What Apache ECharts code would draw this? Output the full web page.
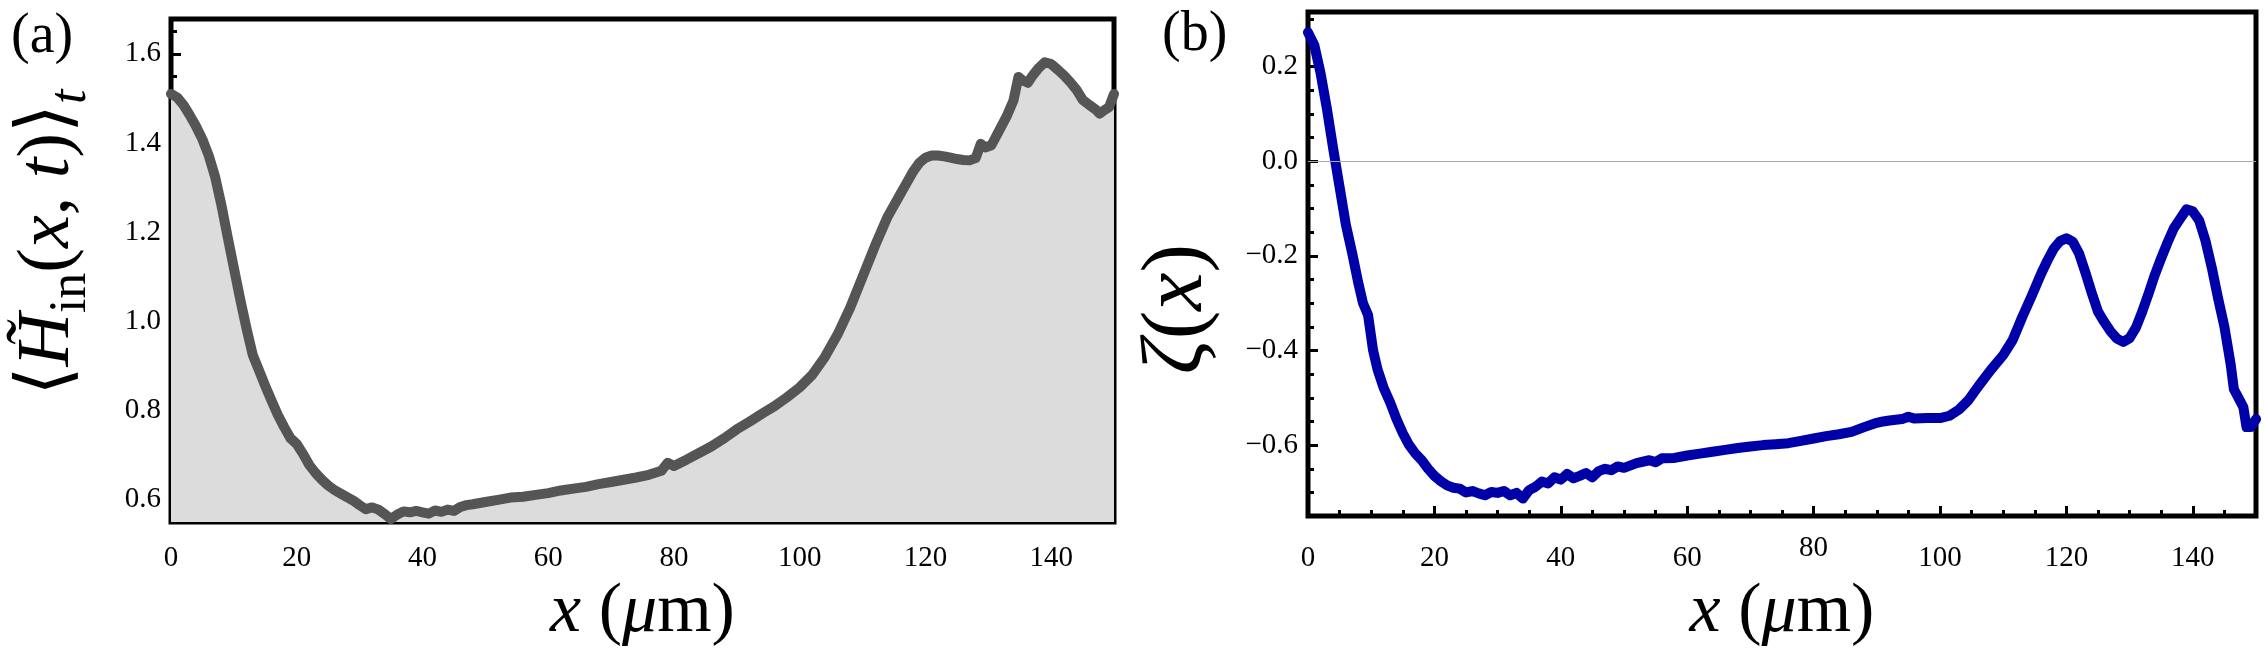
<!DOCTYPE html>
<html><head><meta charset="utf-8">
<script src="https://cdn.jsdelivr.net/npm/echarts@6/dist/echarts.min.js"></script>
<style>html,body{margin:0;padding:0;background:#fff}#c{width:2265px;height:653px}</style>
</head><body><div id="c"></div>
<script>
// ---- data: panel (a) <H_in(x,t)>_t ----
const hX = [0,1,2,3,4,5,6,7,8,9,10,11,12,13,14,15,16,17,18,19,20,21,22,23,24,25,26,27,28,29,30,31,32,33,34,35,36,37,38,39,40,41,42,43,44,45,46,47,48,50,52,54,56,58,60,62,64,66,68,70,72,74,76,78,79,80,82,84,86,88,90,92,94,96,98,100,102,104,106,108,110,112,114,116,117,118,119,120,121,122,123,124,125,126,127,128,128.8,129.5,130.5,132,133,134,134.8,135.5,136.3,137,138,139,140,141,142,143,144,145,146,147,147.7,148.5,149.2,150];
const hY = [1.510,1.502,1.485,1.462,1.437,1.408,1.372,1.325,1.262,1.19,1.12,1.05,0.985,0.925,0.89,0.855,0.822,0.79,0.763,0.738,0.725,0.703,0.678,0.66,0.645,0.632,0.622,0.614,0.606,0.598,0.588,0.579,0.583,0.578,0.568,0.557,0.567,0.574,0.572,0.575,0.572,0.569,0.576,0.573,0.578,0.575,0.584,0.588,0.590,0.595,0.600,0.605,0.607,0.611,0.615,0.621,0.625,0.629,0.635,0.640,0.645,0.650,0.656,0.665,0.683,0.676,0.690,0.705,0.720,0.738,0.758,0.775,0.793,0.81,0.83,0.852,0.88,0.92,0.97,1.03,1.10,1.17,1.235,1.285,1.31,1.335,1.355,1.367,1.372,1.372,1.370,1.367,1.364,1.362,1.361,1.366,1.398,1.39,1.395,1.435,1.462,1.495,1.548,1.54,1.535,1.55,1.568,1.581,1.577,1.565,1.552,1.537,1.52,1.497,1.486,1.476,1.466,1.474,1.48,1.51];
// ---- data: panel (b) zeta(x) ----
const zX = [0,1,2,3,4,5,6,7,8,8.7,9.5,10.3,11,12,13,14,15,16,17,18,19,20,21,22,23,24,25,26,27,28,29,30,31,32,33,34,35,36,37,38,39,40,41,42,43,44,45,46,47,48,49,50,52,54,55,56,58,60,62,64,66,68,70,72,74,76,78,80,82,84,86,88,90,91,92,94,95,96,98,100,101.5,103,104.5,106,108,110,111.5,113,114.5,116,117,118,119,120,121,122,123,124,125,126,127,128,129,130,131,132,133,134,135,136,137,138,139,140,141,142,143,144,145,146,146.5,147.5,148,148.5,149.2,150];
const zY = [0.272,0.245,0.185,0.11,0.025,-0.055,-0.135,-0.195,-0.26,-0.30,-0.325,-0.40,-0.44,-0.48,-0.51,-0.545,-0.575,-0.60,-0.618,-0.632,-0.65,-0.665,-0.676,-0.685,-0.69,-0.692,-0.70,-0.697,-0.702,-0.706,-0.699,-0.701,-0.697,-0.706,-0.701,-0.713,-0.695,-0.688,-0.677,-0.681,-0.668,-0.673,-0.661,-0.670,-0.665,-0.659,-0.668,-0.655,-0.650,-0.653,-0.645,-0.648,-0.638,-0.632,-0.636,-0.628,-0.627,-0.622,-0.618,-0.614,-0.610,-0.606,-0.603,-0.600,-0.598,-0.596,-0.591,-0.586,-0.581,-0.577,-0.572,-0.562,-0.553,-0.550,-0.548,-0.545,-0.540,-0.544,-0.543,-0.543,-0.538,-0.525,-0.505,-0.477,-0.442,-0.41,-0.378,-0.33,-0.285,-0.238,-0.21,-0.185,-0.169,-0.163,-0.170,-0.195,-0.235,-0.278,-0.318,-0.34,-0.36,-0.375,-0.382,-0.374,-0.352,-0.318,-0.28,-0.24,-0.205,-0.172,-0.142,-0.122,-0.102,-0.106,-0.125,-0.168,-0.225,-0.29,-0.35,-0.43,-0.482,-0.507,-0.52,-0.562,-0.562,-0.545];
// ---- tick labels ----
const xTicks = [0,20,40,60,80,100,120,140];
const hTicks = [0.6,0.8,1.0,1.2,1.4,1.6];
const zTicks = [-0.6,-0.4,-0.2,0.0,0.2];

const SERIF = "'Liberation Serif', 'DejaVu Serif', serif";
const chart = echarts.init(document.getElementById('c'), null, {renderer:'canvas'});
const pair = (xs, ys) => xs.map((x,i)=>[x, ys[i]]);
const fmtY = v => (v < 0 ? '\u2212' : '') + Math.abs(v).toFixed(1);
function richSet(F) {
  const S = Math.round(F*0.7);
  return {
    i: {fontFamily: SERIF, fontStyle: 'italic', fontSize: F, color:'#000', lineHeight: F+10},
    r: {fontFamily: SERIF, fontSize: F, color:'#000', lineHeight: F+10},
    s: {fontFamily: SERIF, fontSize: S, color:'#000', lineHeight: S, padding:[Math.round(F*0.6),0,0,0]},
    si: {fontFamily: SERIF, fontStyle:'italic', fontSize: S, color:'#000', lineHeight: S, padding:[Math.round(F*0.6),0,0,0]}
  };
}
function xAxes(g, gap, margin, raise80) {
  return [{
    type:'value', gridIndex:g, min:0, max:150, interval: xTicks[1]-xTicks[0], position:'bottom',
    axisLine:{show:false, onZero:false}, splitLine:{show:false},
    axisTick:{inside:true, length:10, lineStyle:{color:'#000', width:3}},
    axisLabel:{margin: margin, showMaxLabel:false, fontFamily:SERIF, fontSize:29, color:'#000',
      formatter: v => (raise80 && v === 80) ? '{up|80}' : String(v),
      rich:{up:{fontFamily:SERIF, fontSize:29, color:'#000', lineHeight:8}}},
    name:'{i|x}{r| (}{i|\u03bc}{r|m)}', nameLocation:'middle', nameGap:gap,
    nameTextStyle:{rich:richSet(70)}
  },{
    type:'value', gridIndex:g, min:0, max:150, interval:5, position:'bottom',
    axisLine:{show:false, onZero:false}, splitLine:{show:false}, axisLabel:{show:false},
    axisTick:{inside:true, length:6, lineStyle:{color:'#000', width:3}}
  }];
}
function yAxes(g, min, max, name, gap, pad, F) {
  return [{
    type:'value', gridIndex:g, min:min, max:max, minInterval:0.2, maxInterval:0.2, position:'left',
    axisLine:{show:false, onZero:false}, splitLine:{show:false},
    axisTick:{inside:true, length:10, lineStyle:{color:'#000', width:3}},
    axisLabel:{margin:10, showMinLabel:false, showMaxLabel:false, fontFamily:SERIF, fontSize:29, color:'#000', formatter: fmtY},
    name:name, nameLocation:'middle', nameGap:gap,
    nameTextStyle:{rich:richSet(F), padding:pad}
  },{
    type:'value', gridIndex:g, min:min, max:max, interval:0.05, position:'left',
    axisLine:{show:false, onZero:false}, splitLine:{show:false}, axisLabel:{show:false},
    axisTick:{inside:true, length:6, lineStyle:{color:'#000', width:3}}
  }];
}
const option = {
  animation:false,
  backgroundColor:'#fff',
  title:[
    {text:'(a)', left:6, top:4, textStyle:{fontFamily:SERIF, fontWeight:'normal', fontSize:56, color:'#000'}},
    {text:'(b)', left:1157, top:2, textStyle:{fontFamily:SERIF, fontWeight:'normal', fontSize:56, color:'#000'}}
  ],
  grid:[
    {left:164, top:19, width:950, height:522, show:true, borderColor:'#000', borderWidth:5, backgroundColor:'transparent'},
    {left:1308, top:12, width:948, height:523, show:true, borderColor:'#000', borderWidth:5, backgroundColor:'transparent'}
  ],
  xAxis:[...xAxes(0, 46, 22, false), ...xAxes(1, 52, 28, true)],
  yAxis:[
    ...yAxes(0, 0.55, 1.678, '{r|\u27e8}{i|H\u0303}{s|in}{r|(}{i|x}{r|, }{i|t}{r|)\u27e9}{si|t}', 80, [0,0,0,56], 74),
    ...yAxes(1, -0.75, 0.315, '{i|\u03b6}{r|(}{i|x}{r|)}', 82, [0,90,0,0], 86)
  ],
  series:[
    {type:'line', xAxisIndex:0, yAxisIndex:0, data:pair(hX,hY), symbol:'none', z:3,
     lineStyle:{color:'#555555', width:10, cap:'round', join:'round'},
     areaStyle:{color:'#dcdcdc', opacity:1, origin:'start'}},
    {type:'line', xAxisIndex:2, yAxisIndex:2, data:[], symbol:'none', z:1,
     markLine:{silent:true, symbol:['none','none'], label:{show:false},
       lineStyle:{color:'#aaaaaa', width:1.2, type:'solid'}, data:[{yAxis:0}]}},
    {type:'line', xAxisIndex:2, yAxisIndex:2, data:pair(zX,zY), symbol:'none', z:3,
     lineStyle:{color:'#0000a8', width:10, cap:'round', join:'round'}}
  ]
};
chart.setOption(option);
</script></body></html>
